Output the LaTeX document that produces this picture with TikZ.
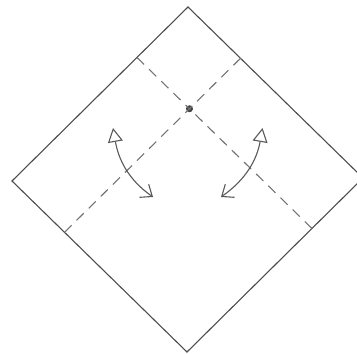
\documentclass[tikz,border=0pt]{standalone}
\usetikzlibrary{arrows.meta,calc}

\begin{document}
\begin{tikzpicture}[
  x=1pt, y=1pt,
  edge/.style={draw=black!70, line width=1.1pt, line join=miter},
  crease/.style={draw=black!55, line width=1.1pt, dash pattern=on 10pt off 7pt},
  dot/.style={circle, fill=black!75, inner sep=0pt, minimum size=7pt},
  flip/.style={draw=black!65, line width=1.1pt,
               {Straight Barb[length=10pt,width=16pt]}-{Triangle[open,length=14pt,width=15pt]}}
]

%% Frame (the right corner runs past the page)
\useasboundingbox (0,0) rectangle (357,354);
\clip (0,0) rectangle (357,354);

%% Square paper, turned on its corner
\coordinate (left)   at (12,173);
\coordinate (top)    at (188,347);
\coordinate (right)  at (363,176);
\coordinate (bottom) at (187,2);
\draw[edge] (left) -- (top) -- (right) -- (bottom) -- cycle;

%% Creases through the reference point
\coordinate (ul) at ($(left)!0.71!(top)$);
\coordinate (lr) at ($(bottom)!0.71!(right)$);
\coordinate (ur) at ($(top)!0.3!(right)$);
\coordinate (ll) at ($(left)!0.3!(bottom)$);
\node[dot] (pivot) at (intersection of ul--lr and ur--ll) {};
\draw[crease] (ul) -- (pivot.center);
\draw[crease] (lr) -- (pivot.center);
\draw[crease] (ur) -- (pivot.center);
\draw[crease] (ll) -- (pivot.center);

%% Fold and unfold
\coordinate (la0) at (153,157);
\coordinate (la1) at (113,226);
\draw[flip] (la0) to[out=145, in=-80] (la1);

\coordinate (ra0) at (221,157);
\coordinate (ra1) at (262.5,226);
\draw[flip] (ra0) to[out=35, in=-100] (ra1);

\end{tikzpicture}
\end{document}
